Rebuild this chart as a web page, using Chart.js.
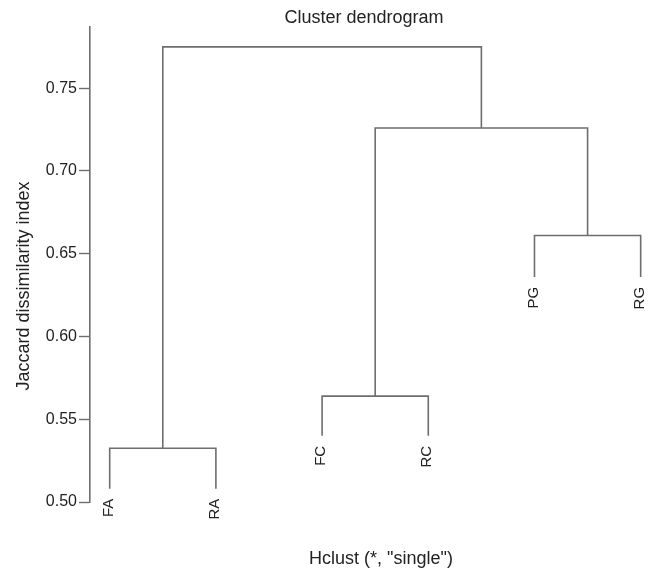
<!DOCTYPE html>
<html>
<head>
<meta charset="utf-8">
<script src="https://cdn.jsdelivr.net/npm/chart.js@4.4.1/dist/chart.umd.min.js"></script>
<style>
  html, body { margin: 0; padding: 0; background: #fff; }
  #wrap { width: 648px; height: 570px; }
</style>
</head>
<body>
<div id="wrap"><canvas id="dendro"></canvas></div>
<script>
// leaves, left to right
const leafLabels = ["FA", "RA", "FC", "RC", "PG", "RG"];
const leafPos = [1, 2, 3, 4, 5, 6];
// height where each leaf line ends (hang)
const leafEnd = [0.508, 0.508, 0.540, 0.540, 0.636, 0.636];

// merges, R hclust style: negative = leaf, positive = earlier merge
const mergeA = [-1, -3, -5, 2, 1];
const mergeB = [-2, -4, -6, 3, 4];
const mergeHeight = [0.5325, 0.564, 0.661, 0.726, 0.775];

const yTicks = [0.50, 0.55, 0.60, 0.65, 0.70, 0.75];

const chartTitle = "Cluster dendrogram";
const xTitle = 'Hclust (*, "single")';
const yTitle = "Jaccard dissimilarity index";

const lineColor = "#6e6e6e";
const textColor = "#222";
const fontFamily = "'Liberation Sans', Arial, Helvetica, sans-serif";

// x centre of every merge
const mergeX = [];
function nodeX(id) {
  return id < 0 ? leafPos[-id - 1] : mergeX[id - 1];
}
function nodeY(id) {
  return id < 0 ? leafEnd[-id - 1] : mergeHeight[id - 1];
}
mergeA.forEach((a, i) => {
  mergeX[i] = (nodeX(a) + nodeX(mergeB[i])) / 2;
});

const datasets = mergeA.map((a, i) => {
  const b = mergeB[i];
  const h = mergeHeight[i];
  return {
    data: [
      { x: nodeX(a), y: nodeY(a) },
      { x: nodeX(a), y: h },
      { x: nodeX(b), y: h },
      { x: nodeX(b), y: nodeY(b) }
    ],
    borderColor: lineColor,
    borderWidth: 1.6,
    pointRadius: 0,
    showLine: true,
    fill: false,
    tension: 0,
    clip: false
  };
});

// leaf labels and titles
const textPlugin = {
  id: "dendroText",
  afterDraw(chart) {
    const { ctx } = chart;
    const xs = chart.scales.x;
    const ys = chart.scales.y;
    ctx.save();
    ctx.fillStyle = textColor;

    ctx.font = "15px " + fontFamily;
    leafLabels.forEach((lab, i) => {
      const px = xs.getPixelForValue(leafPos[i]);
      const py = ys.getPixelForValue(leafEnd[i]) + 10;
      ctx.save();
      ctx.translate(px - 1, py);
      ctx.rotate(-Math.PI / 2);
      ctx.textAlign = "right";
      ctx.textBaseline = "middle";
      ctx.fillText(lab, 0, 0);
      ctx.restore();
    });

    ctx.font = "18px " + fontFamily;
    ctx.textAlign = "center";
    ctx.textBaseline = "middle";
    ctx.fillText(chartTitle, 364, 18);
    ctx.fillText(xTitle, 381, 559);

    ctx.save();
    ctx.translate(24, 286);
    ctx.rotate(-Math.PI / 2);
    ctx.fillText(yTitle, 0, 0);
    ctx.restore();

    ctx.restore();
  }
};

new Chart(document.getElementById("dendro"), {
  type: "scatter",
  data: { datasets },
  options: {
    responsive: true,
    maintainAspectRatio: false,
    animation: false,
    layout: { padding: { top: 27, right: 0, bottom: 68, left: 0 } },
    plugins: {
      legend: { display: false },
      tooltip: { enabled: false }
    },
    scales: {
      x: {
        type: "linear",
        display: false,
        min: 0.8145,
        max: 6.069
      },
      y: {
        type: "linear",
        min: 0.5,
        max: 0.787,
        afterFit(scale) { scale.width = 90; },
        afterBuildTicks(scale) {
          scale.ticks = yTicks.map(v => ({ value: v }));
        },
        grid: {
          drawOnChartArea: false,
          drawTicks: true,
          tickLength: 11,
          tickWidth: 1.4,
          color: lineColor
        },
        border: { display: true, color: lineColor, width: 1.6 },
        ticks: {
          padding: 2,
          color: textColor,
          font: { family: fontFamily, size: 16 },
          callback: v => v.toFixed(2)
        }
      }
    }
  },
  plugins: [textPlugin]
});
</script>
</body>
</html>
